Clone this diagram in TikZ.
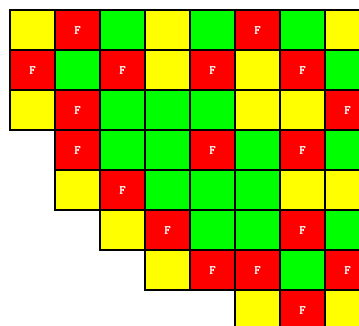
\documentclass[tikz,border=0pt]{standalone}
\usepackage{fontspec}
\newfontfamily\cellfont{Latin Modern Mono}[FakeBold=2.5]
\newcommand\mkcell[4]{\node[#4] (c#1#2) at ({32.5+45*#2},{-30-40*#1}) {#3};}
\newcommand\Yc[2]{\mkcell{#1}{#2}{}{cellY}}
\newcommand\Gc[2]{\mkcell{#1}{#2}{}{cellG}}
\newcommand\Fc[2]{\mkcell{#1}{#2}{F}{cellF}}
\begin{document}
\begin{tikzpicture}[x=1pt,y=1pt,
  cellbase/.style={draw=black,line width=1.2pt,minimum width=45pt,minimum height=40pt,inner sep=0pt,outer sep=0pt,
    font=\cellfont\fontsize{12}{12}\selectfont,text=white},
  cellY/.style={cellbase,fill={rgb,255:red,255;green,255;blue,0}},
  cellG/.style={cellbase,fill={rgb,255:red,0;green,255;blue,0}},
  cellF/.style={cellbase,fill={rgb,255:red,255;green,0;blue,0}}]
\useasboundingbox (0,0) rectangle (359,-326);
\begin{scope}
\clip (0,0) rectangle (359,-326);
% row 0
\Yc00 \Fc01 \Gc02 \Yc03 \Gc04 \Fc05 \Gc06 \Yc07
% row 1
\Fc10 \Gc11 \Fc12 \Yc13 \Fc14 \Yc15 \Fc16 \Gc17
% row 2
\Yc20 \Fc21 \Gc22 \Gc23 \Gc24 \Yc25 \Yc26 \Fc27
% row 3
\Fc31 \Gc32 \Gc33 \Fc34 \Gc35 \Fc36 \Gc37
% row 4
\Yc41 \Fc42 \Gc43 \Gc44 \Gc45 \Yc46 \Yc47
% row 5
\Yc52 \Fc53 \Gc54 \Gc55 \Fc56 \Gc57
% row 6
\Yc63 \Fc64 \Fc65 \Gc66 \Fc67
% row 7
\Yc75 \Fc76 \Yc77
\end{scope}
\end{tikzpicture}
\end{document}
